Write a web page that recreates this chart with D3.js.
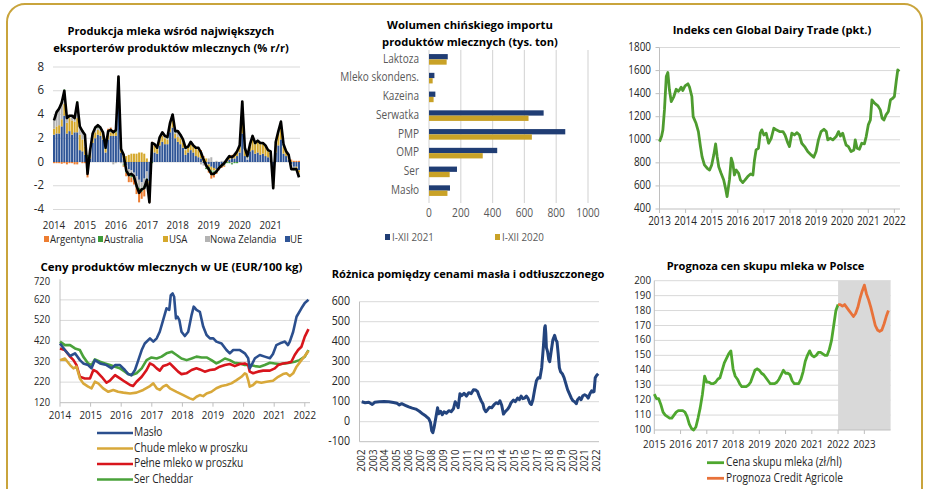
<!DOCTYPE html>
<html><head><meta charset="utf-8">
<script src="https://cdn.jsdelivr.net/npm/d3@7"></script>
<style>
body{margin:0;background:#fff}
svg{display:block}
text{font-family:'Open Sans', Arial, sans-serif}
</style></head><body>
<svg id="c" width="928" height="489"></svg>
<script>
// ---------------- DATA ----------------
// Panel 1: milk production growth (% y/y), monthly Jan 2014 - Dec 2021
const p1Years = ["2014","2015","2016","2017","2018","2019","2020","2021"];
const p1Series = ["Argentyna","Australia","USA","Nowa Zelandia","UE"];
const ue = [2.3,2.4,2.4,3.0,3.9,2.4,2.6,2.3,2.5,2.5,1.0,0.9,
 0.6,-0.5,0.3,1.6,2.0,2.3,2.2,1.9,0.8,1.9,2.2,2.2,
 2.2,5.6,0.8,0.3,-0.3,-0.6,-0.7,-0.9,-1.2,-1.5,-1.7,-1.4,
 -0.8,-1.6,0.9,0.8,0.7,1.4,1.7,1.5,1.5,2.5,2.9,2.0,
 1.7,1.5,1.2,0.6,0.8,1.0,0.8,0.5,0.4,0.3,-0.1,-0.2,
 -0.2,-0.4,-0.5,-0.6,-0.4,-0.3,-0.2,0.0,0.2,0.3,0.3,0.5,
 0.8,2.4,0.5,0.2,0.9,1.0,0.7,0.8,0.6,0.7,0.5,0.4,
 0.3,-1.6,0.8,1.4,1.9,0.7,0.5,0.2,-0.2,-0.4,-0.4,-0.7];
const usa = [0.5,0.6,0.7,0.6,1.0,0.9,1.1,1.2,0.9,1.2,1.3,1.0,
 0.7,0.3,0.5,0.6,0.5,0.4,0.4,0.4,0.3,0.4,0.3,0.3,
 0.3,0.9,0.4,0.4,0.5,0.6,0.7,0.7,0.7,0.8,0.8,0.7,
 0.3,-0.5,0.6,0.6,0.4,0.5,0.5,0.5,0.4,0.5,0.6,0.4,
 0.4,0.5,0.4,0.4,0.4,0.5,0.5,0.6,0.6,0.5,0.4,0.3,
 -0.2,-0.3,-0.2,-0.1,0.0,0.0,0.0,0.1,0.2,0.2,0.3,0.4,
 0.5,2.1,0.6,0.0,0.4,1.0,0.8,0.9,0.9,0.8,0.8,0.5,
 0.5,-0.5,0.7,1.0,1.2,0.6,0.4,0.3,0.1,0.0,-0.1,-0.2];
const nz = [0.8,1.2,1.4,1.4,1.1,0.4,0.2,0.4,0.3,1.3,0.7,0.7,
 0.7,-0.2,0.1,0.1,0.3,0.2,0.2,0.1,0.0,0.2,0.1,-0.2,
 -0.1,0.4,-0.1,-0.2,-0.4,-0.3,-0.3,-0.4,-0.6,-0.7,-0.5,-0.6,
 -0.6,-0.5,0.1,0.0,0.0,0.1,0.2,0.1,0.1,0.2,0.4,0.1,
 0.4,0.2,0.2,0.1,0.0,0.1,0.0,0.0,0.1,-0.2,-0.2,-0.3,
 0.3,0.4,-0.1,0.1,0.0,0.1,0.1,0.1,0.1,-0.1,0.0,0.0,
 0.0,0.3,0.0,0.2,0.1,0.1,0.0,0.0,0.0,0.0,0.0,0.0,
 0.0,-0.1,0.1,0.1,0.2,0.1,0.0,0.0,-0.2,-0.2,-0.1,-0.2];
const aus = [0.0,0.0,0.1,0.1,0.1,0.1,0.0,0.0,0.1,0.1,0.1,0.1,
 0.3,0.3,0.1,0.1,0.1,0.2,0.1,0.1,0.1,0.1,0.1,0.1,
 0.1,0.2,0.0,-0.1,-0.2,-0.3,-0.3,-0.2,-0.3,-0.4,-0.3,-0.3,
 -0.2,-0.3,-0.1,0.0,0.1,0.1,0.1,0.1,0.1,0.1,0.1,0.1,
 0.1,0.1,0.1,0.1,0.1,0.1,0.1,0.1,0.1,0.1,0.0,-0.1,
 -0.3,-0.4,-0.3,-0.2,-0.2,-0.1,-0.1,-0.1,-0.1,-0.1,-0.1,-0.1,
 0.1,0.2,0.1,0.1,0.1,0.1,0.1,0.1,0.1,0.1,0.1,0.1,
 0.1,0.0,0.1,0.1,0.1,0.1,0.0,0.0,0.0,-0.1,-0.1,-0.1];
const arg = [-0.1,-0.1,-0.1,-0.15,-0.1,-0.2,-0.1,-0.1,-0.2,-0.2,0.0,-0.1,
 -0.1,-0.6,0.0,0.0,0.0,0.0,0.0,0.0,0.0,0.2,0.2,0.1,
 0.2,0.1,0.0,-0.1,-0.3,-0.5,-0.4,-0.4,-0.6,-0.8,-0.6,-0.6,
 -0.2,-0.5,0.1,0.1,0.0,0.0,0.0,0.0,0.0,0.0,0.0,0.0,
 0.0,0.0,0.0,0.0,0.0,0.0,0.0,0.0,0.0,0.1,0.1,0.0,
 -0.2,-0.3,-0.2,-0.1,-0.1,-0.1,-0.1,0.0,0.0,0.1,0.1,0.1,
 0.0,0.1,0.0,0.0,0.0,0.0,0.0,0.0,0.0,0.0,0.0,0.0,
 0.0,0.0,0.0,0.0,0.0,0.0,0.0,0.1,0.1,0.1,0.1,0.1];
const total = [3.5,4.2,4.5,5.0,6.0,3.7,3.9,3.9,3.7,5.0,3.0,2.6,
 2.3,-1.0,1.0,2.4,2.9,3.1,2.9,2.5,1.2,2.6,2.7,2.5,
 2.7,7.2,1.1,0.6,-0.7,-1.1,-1.0,-1.2,-2.0,-2.6,-2.3,-2.2,
 -1.5,-3.4,1.6,1.5,1.2,2.1,2.5,2.2,2.1,3.3,4.0,2.6,
 2.6,2.3,1.9,1.2,1.3,1.7,1.4,1.2,1.2,0.8,0.2,-0.3,
 -0.6,-1.0,-1.0,-0.8,-0.5,-0.3,-0.1,0.2,0.5,0.4,0.6,0.9,
 1.4,5.1,1.2,0.5,1.5,2.2,1.6,1.8,1.6,1.6,1.4,1.0,
 0.9,-2.2,1.7,2.6,3.4,1.5,0.9,0.6,-0.6,-0.6,-0.6,-1.3];
const p1Ticks = [-4,-2,0,2,4,6,8];

// Panel 2: Chinese imports (thousand tonnes)
const p2Cats = ["Laktoza","Mleko skondens.","Kazeina","Serwatka","PMP","OMP","Ser","Masło"];
const imp2021 = [118,34,40,721,857,429,176,132];
const imp2020 = [111,23,29,626,647,338,130,116];
const p2Ticks = [0,200,400,600,800,1000];
const p2Legend = ["I-XII 2021","I-XII 2020"];

// Panel 3: GDT price index
const gdt = [[2013.0,984],[2013.08,1030],[2013.13,1086],[2013.19,1259],[2013.26,1548],[2013.32,1583],[2013.38,1433],[2013.45,1331],[2013.55,1375],[2013.64,1438],[2013.72,1420],[2013.77,1433],[2013.83,1456],[2013.89,1427],[2013.98,1467],[2014.09,1485],[2014.15,1456],[2014.24,1375],[2014.29,1201],[2014.4,1143],[2014.49,1071],[2014.57,941],[2014.63,854],[2014.72,782],[2014.83,753],[2014.92,738],[2015.0,782],[2015.08,869],[2015.15,964],[2015.21,854],[2015.27,767],[2015.36,710],[2015.46,652],[2015.53,579],[2015.59,507],[2015.68,652],[2015.75,840],[2015.81,796],[2015.87,695],[2015.94,738],[2016.03,710],[2016.1,652],[2016.19,629],[2016.28,652],[2016.38,681],[2016.49,704],[2016.58,695],[2016.64,825],[2016.7,912],[2016.79,926],[2016.86,1057],[2016.92,1086],[2017.0,1042],[2017.09,1057],[2017.18,970],[2017.28,1013],[2017.38,1100],[2017.47,1086],[2017.6,1071],[2017.73,1071],[2017.81,1042],[2017.92,970],[2017.98,941],[2018.07,1057],[2018.17,1042],[2018.27,1062],[2018.36,1042],[2018.45,970],[2018.56,941],[2018.68,898],[2018.81,869],[2018.91,848],[2019.0,898],[2019.09,999],[2019.19,1071],[2019.3,1091],[2019.39,1071],[2019.45,999],[2019.55,1013],[2019.64,999],[2019.77,1028],[2019.86,1071],[2019.93,1033],[2020.02,1057],[2020.09,999],[2020.15,955],[2020.24,941],[2020.34,898],[2020.45,912],[2020.5,999],[2020.57,926],[2020.66,918],[2020.75,970],[2020.85,964],[2020.92,1028],[2021.0,1129],[2021.08,1172],[2021.14,1346],[2021.24,1317],[2021.37,1294],[2021.46,1259],[2021.53,1187],[2021.6,1172],[2021.68,1216],[2021.77,1245],[2021.85,1346],[2021.94,1360],[2022.0,1375],[2022.07,1505],[2022.13,1606],[2022.19,1592]];
const p3Ticks = [400,600,800,1000,1200,1400,1600,1800];
const p3Years = [2013,2014,2015,2016,2017,2018,2019,2020,2021,2022];

// Panel 4: EU dairy prices (EUR/100 kg)
const maslo = [[2014.0,408],[2014.16,376],[2014.33,347],[2014.49,360],[2014.65,327],[2014.76,311],[2014.92,303],[2015.03,287],[2015.14,327],[2015.31,311],[2015.52,303],[2015.69,287],[2015.8,303],[2015.96,303],[2016.12,279],[2016.23,259],[2016.34,254],[2016.45,279],[2016.56,327],[2016.67,376],[2016.77,408],[2016.94,433],[2017.05,417],[2017.16,433],[2017.26,465],[2017.37,522],[2017.48,579],[2017.57,571],[2017.62,643],[2017.68,651],[2017.73,635],[2017.79,530],[2017.84,538],[2017.9,522],[2017.97,465],[2018.08,444],[2018.19,465],[2018.3,546],[2018.37,587],[2018.46,571],[2018.57,562],[2018.68,490],[2018.79,449],[2018.9,433],[2019.01,433],[2019.11,417],[2019.28,408],[2019.44,376],[2019.55,360],[2019.66,376],[2019.88,376],[2020.04,360],[2020.15,336],[2020.2,287],[2020.26,303],[2020.37,336],[2020.53,352],[2020.69,344],[2020.86,336],[2020.96,357],[2021.07,400],[2021.24,412],[2021.35,417],[2021.45,400],[2021.51,417],[2021.62,465],[2021.73,538],[2021.89,579],[2022.0,605],[2022.12,620]];
const chude = [[2014.0,327],[2014.16,335],[2014.33,303],[2014.44,287],[2014.54,295],[2014.65,238],[2014.76,214],[2014.92,198],[2015.03,190],[2015.14,222],[2015.25,214],[2015.41,190],[2015.58,173],[2015.74,182],[2015.9,173],[2016.07,169],[2016.29,165],[2016.5,169],[2016.72,182],[2016.94,201],[2017.05,214],[2017.16,190],[2017.26,182],[2017.37,198],[2017.48,206],[2017.59,190],[2017.81,173],[2018.03,157],[2018.24,141],[2018.35,136],[2018.46,149],[2018.57,157],[2018.68,152],[2018.79,165],[2018.95,173],[2019.11,190],[2019.28,201],[2019.44,206],[2019.6,214],[2019.77,230],[2019.93,246],[2020.04,263],[2020.09,259],[2020.15,230],[2020.2,198],[2020.31,206],[2020.42,222],[2020.58,217],[2020.75,222],[2020.96,227],[2021.13,246],[2021.29,259],[2021.4,263],[2021.51,250],[2021.62,263],[2021.73,295],[2021.89,327],[2022.0,347],[2022.12,372]];
const pelne = [[2014.0,384],[2014.16,376],[2014.33,344],[2014.44,327],[2014.54,303],[2014.65,246],[2014.81,238],[2014.98,238],[2015.09,279],[2015.2,271],[2015.36,246],[2015.52,217],[2015.63,227],[2015.8,254],[2015.96,238],[2016.12,222],[2016.29,206],[2016.39,201],[2016.5,222],[2016.67,246],[2016.83,279],[2016.94,311],[2017.05,303],[2017.16,287],[2017.26,276],[2017.37,298],[2017.48,303],[2017.59,311],[2017.7,295],[2017.86,271],[2017.97,259],[2018.13,263],[2018.3,279],[2018.46,287],[2018.57,282],[2018.73,271],[2018.9,279],[2019.06,282],[2019.22,295],[2019.39,303],[2019.55,308],[2019.71,298],[2019.88,308],[2020.04,311],[2020.15,303],[2020.2,271],[2020.31,263],[2020.47,271],[2020.64,276],[2020.86,276],[2021.02,287],[2021.13,303],[2021.29,311],[2021.45,314],[2021.56,319],[2021.67,352],[2021.78,376],[2021.89,392],[2022.0,441],[2022.12,478]];
const cheddar = [[2014.0,417],[2014.16,400],[2014.33,400],[2014.49,384],[2014.65,376],[2014.76,344],[2014.92,311],[2015.03,303],[2015.14,331],[2015.31,319],[2015.47,311],[2015.63,303],[2015.8,295],[2015.96,287],[2016.12,271],[2016.23,259],[2016.34,254],[2016.5,263],[2016.67,287],[2016.83,327],[2016.99,340],[2017.16,335],[2017.32,344],[2017.48,360],[2017.65,368],[2017.81,352],[2017.97,335],[2018.14,327],[2018.3,335],[2018.46,344],[2018.63,340],[2018.79,340],[2018.95,327],[2019.11,311],[2019.22,319],[2019.39,335],[2019.55,327],[2019.71,314],[2019.88,311],[2020.04,303],[2020.2,303],[2020.37,298],[2020.53,295],[2020.69,303],[2020.86,314],[2021.02,311],[2021.18,308],[2021.35,311],[2021.51,314],[2021.67,319],[2021.83,327],[2022.0,344],[2022.12,376]];
const p4Names = ["Masło","Chude mleko w proszku","Pełne mleko w proszku","Ser Cheddar"];
const p4Ticks = [120,220,320,420,520,620,720];
const p4Years = [2014,2015,2016,2017,2018,2019,2020,2021,2022];

// Panel 5: butter - SMP price spread
const spread = [[2002.0,100],[2002.3,95],[2002.6,97],[2002.9,86],[2003.1,97],[2003.5,100],[2003.9,101],[2004.3,100],[2004.7,96],[2005.0,92],[2005.2,84],[2005.4,90],[2005.7,82],[2006.0,74],[2006.3,68],[2006.6,63],[2006.9,52],[2007.2,38],[2007.45,28],[2007.7,15],[2007.85,-5],[2007.95,-45],[2008.05,-55],[2008.15,-30],[2008.3,20],[2008.45,70],[2008.55,40],[2008.7,52],[2008.85,35],[2009.0,50],[2009.2,42],[2009.4,55],[2009.6,50],[2009.8,65],[2009.95,100],[2010.1,85],[2010.2,70],[2010.35,140],[2010.5,130],[2010.7,142],[2010.9,128],[2011.1,145],[2011.3,140],[2011.5,160],[2011.7,158],[2011.85,150],[2012.0,125],[2012.15,105],[2012.3,90],[2012.4,65],[2012.55,50],[2012.7,60],[2012.85,72],[2013.05,70],[2013.25,85],[2013.45,95],[2013.6,90],[2013.75,105],[2013.9,82],[2014.05,38],[2014.2,50],[2014.4,62],[2014.55,75],[2014.7,95],[2014.9,108],[2015.05,100],[2015.25,118],[2015.4,110],[2015.55,128],[2015.7,115],[2015.85,118],[2016.0,128],[2016.15,115],[2016.3,92],[2016.42,86],[2016.55,110],[2016.7,160],[2016.85,205],[2017.0,220],[2017.15,218],[2017.3,270],[2017.45,380],[2017.55,470],[2017.6,480],[2017.65,440],[2017.7,370],[2017.8,350],[2017.9,310],[2017.98,300],[2018.1,350],[2018.25,410],[2018.4,432],[2018.5,410],[2018.6,400],[2018.7,340],[2018.8,270],[2018.9,250],[2019.05,240],[2019.2,220],[2019.35,190],[2019.5,160],[2019.65,140],[2019.8,120],[2019.95,105],[2020.1,100],[2020.25,90],[2020.35,110],[2020.5,120],[2020.65,110],[2020.8,130],[2020.95,135],[2021.1,130],[2021.25,118],[2021.4,140],[2021.55,155],[2021.65,148],[2021.75,150],[2021.85,220],[2021.95,230],[2022.1,240]];
const p5Ticks = [-100,0,100,200,300,400,500,600];
const p5Years = d3.range(2002, 2023);

// Panel 6: milk purchase price in Poland (zł/hl), monthly from Jan 2015
const cena = [124,121,121,117,112,110,109,108,108,110,112,113,
 113,113,112,109,104,101,100,102,108,115,124,136,
 132,132,131,131,132,134,135,140,145,148,151,153,
 141,136,134,131,129,129,129,130,132,136,140,141,
 140,138,137,135,133,131,131,131,132,134,137,140,
 138,138,137,133,131,131,131,134,139,146,150,153,
 150,149,150,152,152,151,150,150,154,160,170,180,184];
const prognoza = [184,184,183,184,182,180,178,176,178,182,188,193,
 197,191,187,182,176,170,167,166,167,171,176,180];
const p6Ticks = [100,110,120,130,140,150,160,170,180,190,200];
const p6Years = [2015,2016,2017,2018,2019,2020,2021,2022,2023];
const p6Names = ["Cena skupu mleka (zł/hl)","Prognoza Credit Agricole"];

// ---------------- DRAW ----------------
const svg = d3.select("#c");
const GRID = "#d9d9d9", AXIS = "#bfbfbf", TXT = "#262626", TXT2 = "#595959";
const COND = 0.85;   // horizontal condensing to mimic a narrow (Calibri-like) face

function fit(sel, w){ const l = sel.node().getComputedTextLength(); const fs = parseFloat(sel.attr("font-size")); sel.attr("font-size", fs*w/l); return sel; }
function title(x, y, str, w){ const t = svg.append("text").attr("x",x).attr("y",y).attr("text-anchor","middle").attr("font-size",14).attr("font-weight","bold").attr("fill","#000").attr("dominant-baseline","middle").text(str); fit(t,w); return t; }
function label(g, x, y, str, anchor, size, fill, transform){
  const t = g.append("text").attr("text-anchor",anchor).attr("dominant-baseline","middle").attr("font-size",size).attr("fill",fill).text(str);
  if (transform) t.attr("transform",transform); else t.attr("x",x).attr("y",y);
  const l = t.node().getComputedTextLength();
  t.attr("textLength", l*COND).attr("lengthAdjust","spacingAndGlyphs");
  return t;
}

// frame
svg.append("rect").attr("x",7).attr("y",4).attr("width",915).attr("height",540).attr("rx",18)
  .attr("fill","none").attr("stroke","#c9a43c").attr("stroke-width",2);

// ===== Panel 1 =====
{
  const g = svg.append("g");
  const months = d3.range(total.length);
  const x = d3.scaleBand().domain(months).range([53,300]).paddingInner(0.22);
  const y = d3.scaleLinear().domain([-4,8]).range([209.5,67]);
  g.selectAll(".gl").data(p1Ticks).join("line").attr("x1",53).attr("x2",300).attr("y1",d=>y(d)).attr("y2",d=>y(d)).attr("stroke",GRID);
  p1Ticks.forEach(t=>label(g,44,y(t),String(t),"end",13.5,TXT));
  const colors = {"Argentyna":"#ed7d31","Australia":"#3f9a3a","USA":"#d5a82c","Nowa Zelandia":"#b3b3b3","UE":"#2f5597"};
  const src = {"UE":ue,"USA":usa,"Nowa Zelandia":nz,"Australia":aus,"Argentyna":arg};
  const rows = months.map(i=>{const o={i}; for(const k in src) o[k]=src[k][i]; return o;});
  const stack = d3.stack().keys(["UE","USA","Nowa Zelandia","Australia","Argentyna"]).offset(d3.stackOffsetDiverging);
  const layers = stack(rows);
  g.selectAll(".ly").data(layers).join("g").attr("fill",d=>colors[d.key])
    .selectAll("rect").data(d=>d).join("rect")
    .attr("x",d=>x(d.data.i)).attr("width",x.bandwidth())
    .attr("y",d=>y(Math.max(d[0],d[1]))).attr("height",d=>Math.abs(y(d[0])-y(d[1])));
  g.append("path").datum(total).attr("fill","none").attr("stroke","#000").attr("stroke-width",2.6).attr("stroke-linejoin","round")
    .attr("d", d3.line().x((d,i)=>x(i)+x.bandwidth()/2).y(d=>y(d)));
  p1Years.forEach((yr,k)=>label(g, x(k*12)+x.bandwidth()/2, 226, yr, "middle", 11.5, TXT));
  const sq = [44,98,163,205,285], tx = [50,104,169,210,290];
  p1Series.forEach((s,k)=>{
    g.append("rect").attr("x",sq[k]).attr("y",236).attr("width",5).attr("height",6).attr("fill",colors[s]);
    label(g, tx[k], 239.5, s, "start", 11.3, TXT);
  });
  title(171,32,"Produkcja mleka wśród największych",207);
  title(171,49,"eksporterów produktów mlecznych (% r/r)",236);
}

// ===== Panel 2 =====
{
  const g = svg.append("g");
  const x = d3.scaleLinear().domain([0,1000]).range([429,588]);
  const y = d3.scaleBand().domain(p2Cats).range([50,200]);
  const yi = d3.scaleBand().domain(["2021","2020"]).range([0,y.bandwidth()]).paddingInner(0).paddingOuter(0.77);
  g.selectAll(".gl").data(p2Ticks).join("line").attr("x1",d=>x(d)).attr("x2",d=>x(d)).attr("y1",50).attr("y2",203).attr("stroke",GRID).attr("stroke-width",1.2);
  p2Ticks.forEach(t=>label(g,x(t),214,String(t),"middle",12,TXT2));
  p2Cats.forEach(c=>label(g,419,y(c)+y.bandwidth()/2,c,"end",11.8,TXT2));
  g.selectAll(".b1").data(p2Cats).join("rect").attr("x",x(0)).attr("y",c=>y(c)+yi("2021")).attr("height",yi.bandwidth())
    .attr("width",(c,i)=>x(imp2021[i])-x(0)).attr("fill","#203d74");
  g.selectAll(".b2").data(p2Cats).join("rect").attr("x",x(0)).attr("y",c=>y(c)+yi("2020")).attr("height",yi.bandwidth())
    .attr("width",(c,i)=>x(imp2020[i])-x(0)).attr("fill","#c9a227");
  const lx=[385,495], lc=["#203d74","#c9a227"];
  p2Legend.forEach((s,k)=>{
    g.append("rect").attr("x",lx[k]).attr("y",234).attr("width",5).attr("height",6).attr("fill",lc[k]);
    label(g,lx[k]+7,237.5,s,"start",11.5,TXT2);
  });
  title(470,26,"Wolumen chińskiego importu",166);
  title(470,43.5,"produktów mlecznych (tys. ton)",176);
}

// ===== Panel 3 =====
{
  const g = svg.append("g");
  const x = d3.scaleLinear().domain([2013,2022.2]).range([659.5,899.6]);
  const y = d3.scaleLinear().domain([400,1800]).range([209,47.5]);
  g.selectAll(".gl").data(p3Ticks.slice(1)).join("line").attr("x1",659.5).attr("x2",900).attr("y1",d=>y(d)).attr("y2",d=>y(d)).attr("stroke",GRID);
  g.append("line").attr("x1",659.5).attr("x2",900).attr("y1",y(400)).attr("y2",y(400)).attr("stroke",AXIS);
  g.append("line").attr("x1",659.5).attr("x2",659.5).attr("y1",y(1800)).attr("y2",y(400)).attr("stroke",AXIS);
  p3Ticks.forEach(t=>{ g.append("line").attr("x1",655.5).attr("x2",659.5).attr("y1",y(t)).attr("y2",y(t)).attr("stroke",AXIS); label(g,651,y(t),String(t),"end",11.7,TXT);});
  p3Years.forEach(t=>{ g.append("line").attr("x1",x(t)).attr("x2",x(t)).attr("y1",y(400)).attr("y2",y(400)+4).attr("stroke",AXIS); label(g,x(t),222,String(t),"middle",11.7,TXT);});
  g.append("path").datum(gdt).attr("fill","none").attr("stroke","#4e9c2f").attr("stroke-width",2.8).attr("stroke-linejoin","round")
    .attr("d",d3.line().x(d=>x(d[0])).y(d=>y(d[1])));
  title(772,31,"Indeks cen Global Dairy Trade (pkt.)",199);
}

// ===== Panel 4 =====
{
  const g = svg.append("g");
  const x = d3.scaleLinear().domain([2014,2022.17]).range([60,310]);
  const y = d3.scaleLinear().domain([120,720]).range([402.7,279.3]);
  g.selectAll(".gl").data(p4Ticks.slice(1,6)).join("line").attr("x1",60).attr("x2",310).attr("y1",d=>y(d)).attr("y2",d=>y(d)).attr("stroke",GRID);
  g.append("line").attr("x1",60).attr("x2",310).attr("y1",y(120)).attr("y2",y(120)).attr("stroke",AXIS);
  g.append("line").attr("x1",60).attr("x2",60).attr("y1",y(720)).attr("y2",y(120)).attr("stroke",AXIS);
  p4Ticks.forEach(t=>label(g,50,y(t)+(t===720?2.5:0),String(t),"end",11,TXT));
  p4Years.forEach(t=>{ g.append("line").attr("x1",x(t)).attr("x2",x(t)).attr("y1",y(120)).attr("y2",y(120)+4).attr("stroke",AXIS); label(g,x(t),416,String(t),"middle",11.5,TXT);});
  const ser = [maslo,chude,pelne,cheddar], cols = ["#2b4f8e","#d8a83a","#d8151c","#4aa23a"];
  const line = d3.line().x(d=>x(d[0])).y(d=>y(d[1]));
  [cheddar,pelne,chude,maslo].forEach(s=>{ const k = ser.indexOf(s);
    g.append("path").datum(s).attr("fill","none").attr("stroke",cols[k]).attr("stroke-width",2.6).attr("stroke-linejoin","round").attr("d",line); });
  const ly = [433,448.5,464,479.5];
  p4Names.forEach((n,k)=>{
    g.append("line").attr("x1",97).attr("x2",133).attr("y1",ly[k]).attr("y2",ly[k]).attr("stroke",cols[k]).attr("stroke-width",2.6);
    label(g,134,ly[k],n,"start",12,TXT);
  });
  title(171.5,268,"Ceny produktów mlecznych w UE (EUR/100 kg)",262);
}

// ===== Panel 5 =====
{
  const g = svg.append("g");
  const x = d3.scaleLinear().domain([2002,2022]).range([361.7,597]);
  const y = d3.scaleLinear().domain([-100,600]).range([441.7,301.7]);
  g.selectAll(".gl").data(p5Ticks.slice(1)).join("line").attr("x1",359.5).attr("x2",599).attr("y1",d=>y(d)).attr("y2",d=>y(d)).attr("stroke",GRID);
  g.append("line").attr("x1",359.5).attr("x2",599).attr("y1",y(-100)).attr("y2",y(-100)).attr("stroke",AXIS);
  g.append("line").attr("x1",359.5).attr("x2",359.5).attr("y1",y(600)).attr("y2",y(-100)).attr("stroke",AXIS);
  p5Ticks.forEach(t=>label(g,350,y(t),String(t),"end",12.5,TXT));
  p5Years.forEach(t=>label(g,0,0,String(t),"end",11.5,TXT,`translate(${x(t)},449.5) rotate(-90)`));
  g.append("path").datum(spread).attr("fill","none").attr("stroke","#23447e").attr("stroke-width",3).attr("stroke-linejoin","round")
    .attr("d",d3.line().x(d=>x(d[0])).y(d=>y(d[1])));
  title(468,275,"Różnica pomiędzy cenami masła i odtłuszczonego",273);
}

// ===== Panel 6 =====
{
  const g = svg.append("g");
  const x = d3.scaleLinear().domain([0,108]).range([654.3,890.6]);
  const y = d3.scaleLinear().domain([100,200]).range([430,280.7]);
  g.selectAll(".gl").data(p6Ticks.slice(1)).join("line").attr("x1",654.3).attr("x2",890.6).attr("y1",d=>y(d)).attr("y2",d=>y(d)).attr("stroke",GRID);
  g.append("rect").attr("x",x(84)).attr("y",y(200)).attr("width",x(108)-x(84)).attr("height",y(100)-y(200)).attr("fill","#d9d9d9");
  g.append("line").attr("x1",654.3).attr("x2",890.6).attr("y1",y(100)).attr("y2",y(100)).attr("stroke",AXIS);
  g.append("line").attr("x1",654.3).attr("x2",654.3).attr("y1",y(200)).attr("y2",y(100)).attr("stroke",AXIS);
  p6Ticks.forEach(t=>label(g,651,y(t),String(t),"end",11.5,TXT));
  p6Years.forEach((t,k)=>{ g.append("line").attr("x1",x(k*12)).attr("x2",x(k*12)).attr("y1",y(100)).attr("y2",y(100)+4).attr("stroke",AXIS); label(g,x(k*12),445,String(t),"middle",11.5,TXT);});
  g.append("path").datum(cena).attr("fill","none").attr("stroke","#4ea72e").attr("stroke-width",2.8).attr("stroke-linejoin","round")
    .attr("d",d3.line().x((d,i)=>x(i)).y(d=>y(d)));
  g.append("path").datum(prognoza).attr("fill","none").attr("stroke","#e8723a").attr("stroke-width",2.8).attr("stroke-linejoin","round")
    .attr("d",d3.line().x((d,i)=>x(84+i)).y(d=>y(d)));
  const ly=[462.7,478.3], lc=["#4ea72e","#e8723a"];
  p6Names.forEach((n,k)=>{
    g.append("line").attr("x1",707).attr("x2",724).attr("y1",ly[k]).attr("y2",ly[k]).attr("stroke",lc[k]).attr("stroke-width",2.8);
    label(g,726,ly[k],n,"start",12,TXT);
  });
  title(765.5,267.5,"Prognoza cen skupu mleka w Polsce",198);
}
</script></body></html>
